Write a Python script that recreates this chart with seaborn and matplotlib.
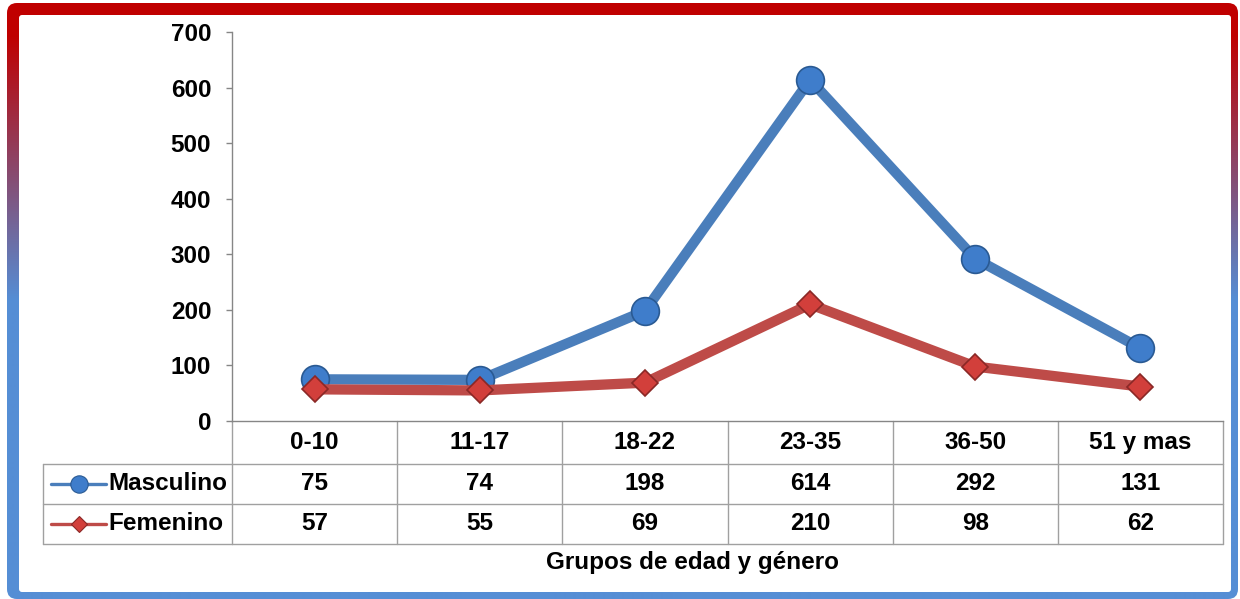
import numpy as np
import pandas as pd
import matplotlib
matplotlib.use('Agg')
import matplotlib.pyplot as plt
import seaborn as sns
from matplotlib.patches import FancyBboxPatch
from matplotlib.transforms import blended_transform_factory

# ---------------- data ----------------
categories = ["0-10", "11-17", "18-22", "23-35", "36-50", "51 y mas"]
masculino = [75, 74, 198, 614, 292, 131]
femenino = [57, 55, 69, 210, 98, 62]
series_names = ["Masculino", "Femenino"]
y_ticks = [0, 100, 200, 300, 400, 500, 600, 700]
x_title = "Grupos de edad y género"

# ---------------- style ----------------
sns.set_style('white')
plt.rcParams['font.family'] = ['Liberation Sans', 'DejaVu Sans']
plt.rcParams['font.weight'] = 'bold'
plt.rcParams['text.color'] = 'black'
plt.rcParams['ytick.color'] = 'black'
plt.rcParams['ytick.labelcolor'] = 'black'

FS = 17.5
W, H = 1240, 599
fig = plt.figure(figsize=(W / 100, H / 100), dpi=100)
fig.patch.set_facecolor('white')

# background / frame axes in pixel coordinates (y from top)
bg = fig.add_axes([0, 0, 1, 1])
bg.set_xlim(0, W)
bg.set_ylim(H, 0)
bg.axis('off')

ys = np.linspace(0, H, 600)
t = np.clip((ys - 35) / (300 - 35), 0, 1)
red = np.array([192, 0, 0]) / 255
blue = np.array([85, 142, 213]) / 255
cols = red[None, :] * (1 - t[:, None]) + blue[None, :] * t[:, None]
img = np.repeat(cols[:, None, :], 2, axis=1)
im = bg.imshow(img, extent=(0, W, H, 0), aspect='auto',
               interpolation='bilinear', zorder=0)
outer = FancyBboxPatch((7, 3), 1231, 596, boxstyle='round,pad=0,rounding_size=10',
                       transform=bg.transData, fc='none', ec='none')
bg.add_patch(outer)
im.set_clip_path(outer)
inner = FancyBboxPatch((19, 15), 1212, 577, boxstyle='round,pad=0,rounding_size=3',
                       fc='white', ec='none', zorder=1)
bg.add_patch(inner)

# ---------------- main plot ----------------
ax = fig.add_axes([232 / W, 1 - 421 / H, 991 / W, 389 / H])
ax.patch.set_alpha(0)

df_m = pd.DataFrame({"Grupo": categories, "Valor": masculino})
df_f = pd.DataFrame({"Grupo": categories, "Valor": femenino})

blue_line = '#4A7EBB'
red_line = '#BE4B48'

sns.lineplot(data=df_m, x="Grupo", y="Valor", ax=ax, sort=False,
             color=blue_line, lw=7.4, marker='o', markersize=20,
             markerfacecolor='#3F7DCB', markeredgecolor='#2A5A93',
             markeredgewidth=1.2, zorder=3)
sns.lineplot(data=df_f, x="Grupo", y="Valor", ax=ax, sort=False,
             color=red_line, lw=7.4, marker='D', markersize=13.5,
             markerfacecolor='#D23F3B', markeredgecolor='#8A2826',
             markeredgewidth=1.2, zorder=4)

ax.set_xlim(-0.5, len(categories) - 0.5)
ax.set_ylim(y_ticks[0], y_ticks[-1])
ax.set_yticks(y_ticks)
ax.set_xticks([])
ax.set_xlabel('')
ax.set_ylabel('')
for s in ['top', 'right']:
    ax.spines[s].set_visible(False)
for s in ['left', 'bottom']:
    ax.spines[s].set_color('#868686')
    ax.spines[s].set_linewidth(1)
ax.tick_params(axis='y', left=True, direction='out', length=4.5, width=1,
               color='#868686', labelcolor='black', labelsize=FS, pad=10.5)
for lab in ax.get_yticklabels():
    lab.set_fontweight('bold')

# ---------------- data table ----------------
tr = blended_transform_factory(ax.transData, bg.transData)
grid_c = '#A0A0A0'
header_y = 442.5
row_y = [484, 524]
row_lines = [464, 504, 544]
x_right = len(categories) - 0.5

for yl in row_lines:
    ax.plot([-0.5, x_right], [yl, yl], transform=tr, color=grid_c, lw=1, clip_on=False)
    bg.plot([43, 232], [yl, yl], color=grid_c, lw=1, zorder=2)
bg.plot([43, 43], [464, 544], color=grid_c, lw=1, zorder=2)
for i in range(len(categories) + 1):
    ax.plot([i - 0.5, i - 0.5], [421, 544], transform=tr, color=grid_c, lw=1, clip_on=False)

for i, c in enumerate(categories):
    ax.text(i, header_y, c, transform=tr, ha='center', va='center',
            fontsize=FS, fontweight='bold', color='black')
for vals, yy in zip([masculino, femenino], row_y):
    for i, v in enumerate(vals):
        ax.text(i, yy, str(v), transform=tr, ha='center', va='center',
                fontsize=FS, fontweight='bold', color='black')

# legend keys in table
bg.plot([51, 106], [row_y[0], row_y[0]], color=blue_line, lw=2.4, zorder=3)
bg.plot([78.5], [row_y[0]], marker='o', markersize=12.5, color='#3F7DCB',
        markeredgecolor='#2A5A93', markeredgewidth=0.8, zorder=4)
bg.plot([51, 106], [row_y[1], row_y[1]], color=red_line, lw=2.4, zorder=3)
bg.plot([78.5], [row_y[1]], marker='D', markersize=8.5, color='#D23F3B',
        markeredgecolor='#8A2826', markeredgewidth=0.8, zorder=4)
for name, yy in zip(series_names, row_y):
    bg.text(108, yy, name, ha='left', va='center', fontsize=FS,
            fontweight='bold', color='black', zorder=4)

bg.text(693, 563, x_title, ha='center', va='center', fontsize=FS,
        fontweight='bold', color='black', zorder=4)

fig.savefig('out.png', dpi=100)
